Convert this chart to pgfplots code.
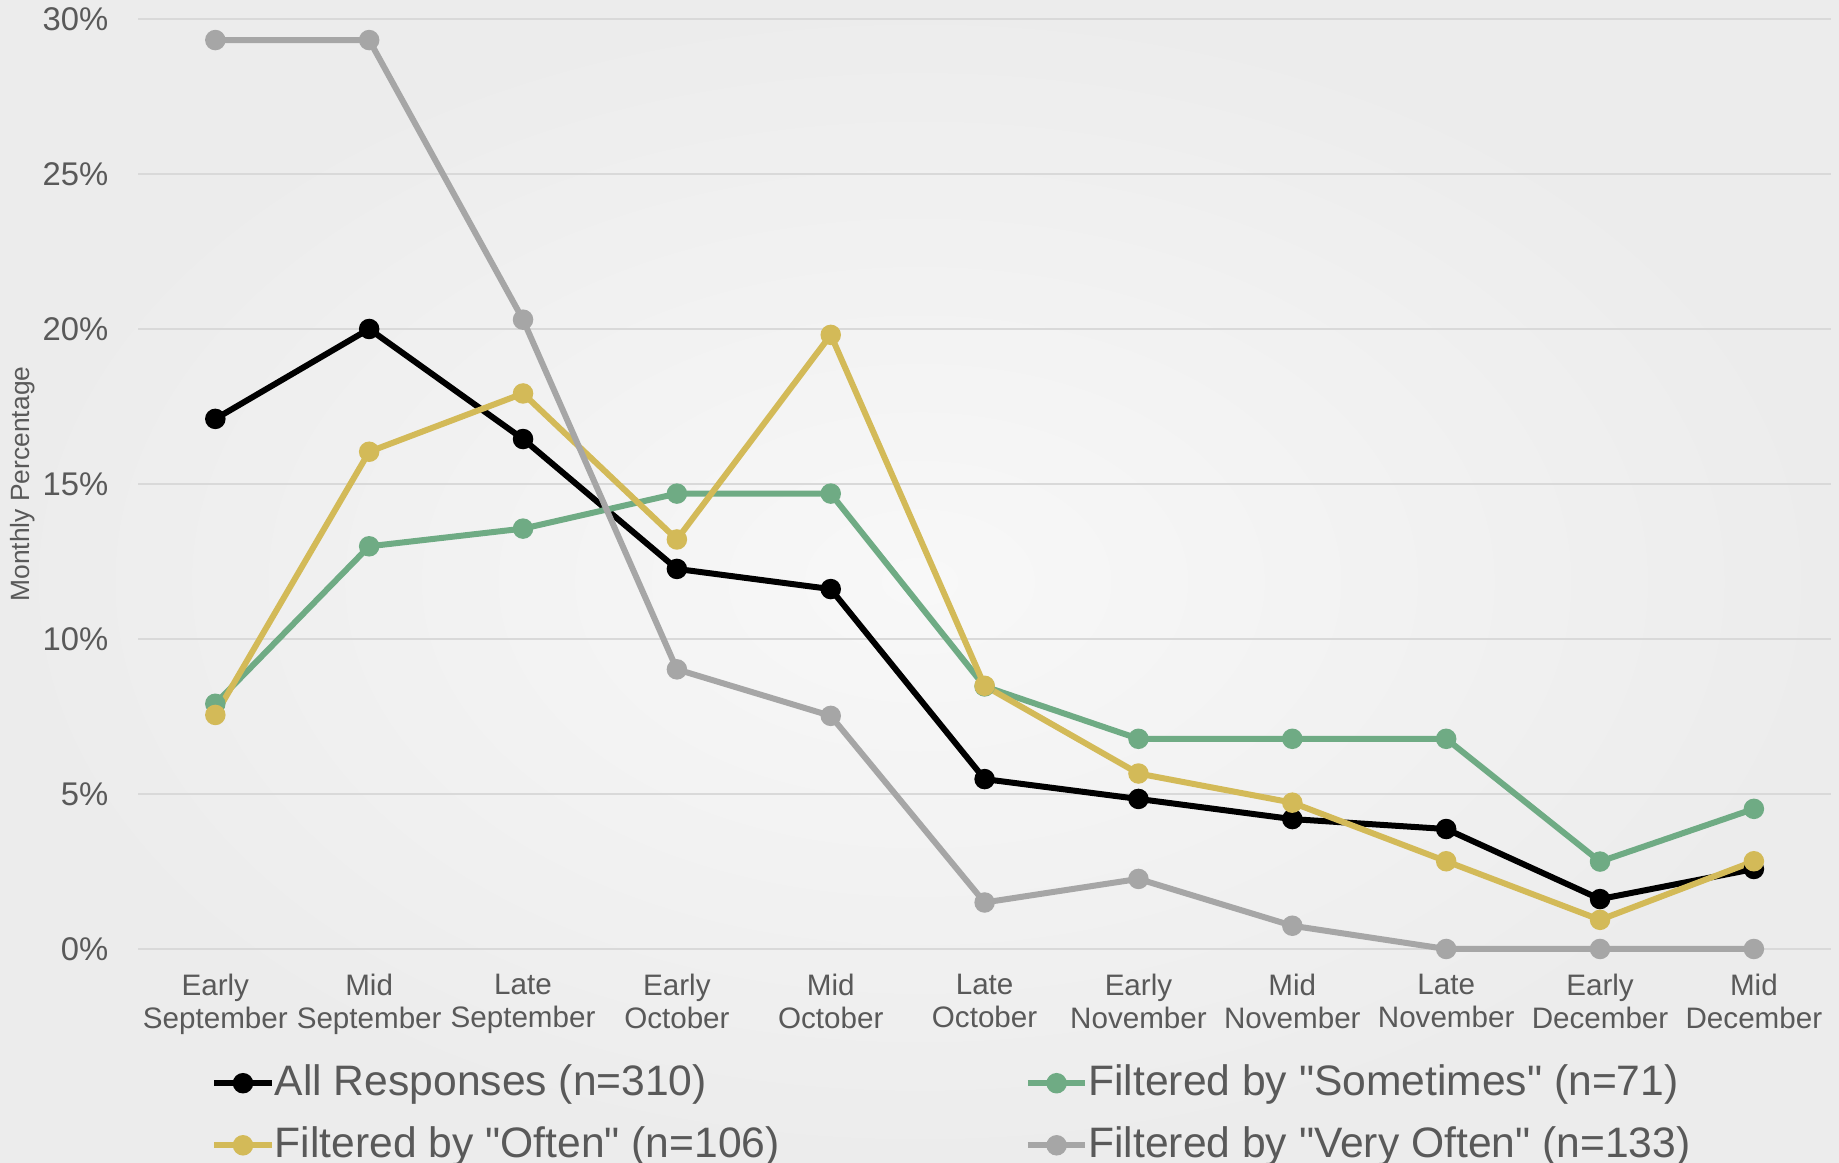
\documentclass[border=0pt]{standalone}
\usepackage{pgfplots}
\pgfplotsset{compat=1.18}
\usepackage{fontspec}
\setmainfont{Liberation Sans}[Ligatures=TeXOff]
\usetikzlibrary{backgrounds}
\definecolor{cgreen}{RGB}{111,171,132}
\definecolor{cyellow}{RGB}{211,186,88}
\definecolor{cgray}{RGB}{166,166,166}
\definecolor{textc}{RGB}{89,89,89}
\definecolor{gridc}{RGB}{217,217,217}
\definecolor{bgin}{RGB}{248,248,248}
\definecolor{bgout}{RGB}{236,236,236}
\begin{document}
\begin{tikzpicture}
\begin{axis}[
  scale only axis, width=423.1pt, height=232.5pt,
  xmin=-0.5, xmax=10.5, ymin=0, ymax=30,
  clip=false,
  axis line style={draw=none},
  major tick length=0pt,
  ytick={0,5,10,15,20,25,30},
  yticklabels={0\%,5\%,10\%,15\%,20\%,25\%,30\%},
  ymajorgrids, grid style={draw=gridc, line width=0.5pt},
  xtick={0,...,10},
  xticklabels={{Early\\September},{Mid\\September},{Late\\September},{Early\\October},{Mid\\October},{Late\\October},{Early\\November},{Mid\\November},{Late\\November},{Early\\December},{Mid\\December}},
  xticklabel style={align=center, font=\fontsize{7.4}{8.25}\selectfont, text=textc, yshift=-2.8pt},
  yticklabel style={font=\fontsize{8.2}{9}\selectfont, text=textc, xshift=-4pt},
  ylabel={Monthly Percentage},
  every axis y label/.style={at={([xshift=-29pt]axis description cs:0,0.5)}, rotate=90, anchor=center, font=\fontsize{6.6}{8}\selectfont, text=textc},
  legend columns=2,
  legend cell align=left,
  legend style={draw=none, fill=none, inner sep=0pt,
    at={([xshift=18.0pt, yshift=-28.75pt]axis description cs:0,0)}, anchor=north west,
    font=\fontsize{10.65}{13}\selectfont, text=textc,
    nodes={inner sep=0pt},
    row sep=6.3pt,
    /tikz/every odd column/.append style={column sep=0pt}},
  legend image code/.code={\draw[#1, mark repeat=2, mark phase=2] plot coordinates {(0pt,0pt) (7.2pt,0pt) (14.4pt,0pt)};},
  every axis plot/.append style={line width=1.5pt, mark=*, mark size=1.8pt},
]
\addplot[color=black, mark options={fill=black, draw=black}] coordinates {
(0,17.10) (1,20.00) (2,16.45) (3,12.26) (4,11.61) (5,5.48) (6,4.84) (7,4.19) (8,3.87) (9,1.61) (10,2.58)};
\addlegendentry{\makebox[187.5pt][l]{All Responses (n=310)}}
\addplot[color=cgreen, mark options={fill=cgreen, draw=cgreen}] coordinates {
(0,7.91) (1,12.99) (2,13.56) (3,14.69) (4,14.69) (5,8.47) (6,6.78) (7,6.78) (8,6.78) (9,2.82) (10,4.52)};
\addlegendentry{Filtered by "Sometimes" (n=71)}
\addplot[color=cyellow, mark options={fill=cyellow, draw=cyellow}] coordinates {
(0,7.55) (1,16.04) (2,17.92) (3,13.21) (4,19.81) (5,8.49) (6,5.66) (7,4.72) (8,2.83) (9,0.94) (10,2.83)};
\addlegendentry{\makebox[187.5pt][l]{Filtered by "Often" (n=106)}}
\addplot[color=cgray, mark options={fill=cgray, draw=cgray}] coordinates {
(0,29.32) (1,29.32) (2,20.30) (3,9.02) (4,7.52) (5,1.50) (6,2.26) (7,0.75) (8,0) (9,0) (10,0)};
\addlegendentry{Filtered by "Very Often" (n=133)}
\end{axis}
\begin{scope}[on background layer]
\shade[inner color=bgin, outer color=bgout] (-34.6pt,-53.5pt) rectangle (425.15pt,237.25pt);
\end{scope}
\pgfresetboundingbox
\path[use as bounding box] (-34.6pt,-53.5pt) rectangle (425.15pt,237.25pt);
\end{tikzpicture}
\end{document}
